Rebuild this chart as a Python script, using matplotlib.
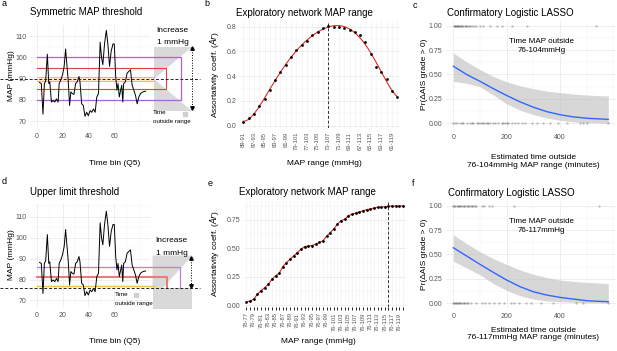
import numpy as np
import matplotlib
matplotlib.use("Agg")
import matplotlib.pyplot as plt
from matplotlib.ticker import MultipleLocator, FormatStrFormatter

plt.rcParams['font.family'] = ['Liberation Sans', 'DejaVu Sans']

# MAP trace (same patient, panels a and d)
time_bin = [2.0, 3.4, 4.7, 5.8, 6.8, 8.1, 9.2, 10.0, 11.3, 12.6, 13.9, 15.2, 16.5, 17.3, 18.6, 19.9,
            21.2, 22.3, 23.3, 24.3, 25.4, 26.4, 27.5, 28.8, 30.1, 31.4, 32.7, 33.5, 34.8, 36.1, 37.4,
            38.7, 40.0, 41.4, 42.7, 44.0, 45.3, 46.6, 47.9, 49.2, 50.3, 51.3, 52.6, 54.0, 55.2, 56.5,
            57.8, 59.2, 60.2, 61.3, 62.3, 63.1, 64.1, 64.9, 66.0, 66.8, 67.5, 68.8, 70.2, 71.5, 72.8,
            74.1, 75.4, 76.7, 78.0, 79.3, 80.6, 82.5, 84.6]
map_mmhg = [88.2, 87.7, 73.3, 87.7, 89.0, 101.5, 87.7, 88.5, 79.0, 79.8, 79.0, 80.5, 79.0, 87.7, 89.4, 91.8,
            95.8, 103.9, 96.6, 89.4, 77.4, 83.8, 83.0, 82.6, 87.7, 88.5, 91.0, 88.5, 78.2, 77.4, 72.3,
            74.2, 72.6, 75.0, 74.2, 75.8, 74.2, 81.4, 83.0, 107.1, 99.8, 96.6, 106.3, 112.7, 106.3, 95.8,
            103.0, 106.3, 106.3, 91.0, 84.6, 87.7, 81.4, 83.8, 86.9, 79.0, 87.7, 88.5, 92.6, 93.4, 94.2,
            86.9, 84.6, 82.2, 78.2, 81.4, 83.0, 83.8, 84.1]

# panel b: symmetric ranges
range_sym = ['89-91', '88-92', '87-93', '86-94', '85-95', '84-96', '83-97', '82-98', '81-99', '80-100',
             '79-101', '78-102', '77-103', '76-104', '75-105', '74-106', '73-107', '72-108', '71-109',
             '70-110', '69-111', '68-112', '67-113', '66-114', '65-115', '64-116', '63-117', '62-118',
             '61-119', '60-120']
ar_sym = [0.030, 0.060, 0.097, 0.156, 0.219, 0.285, 0.372, 0.434, 0.493, 0.552, 0.611, 0.655, 0.684,
          0.730, 0.757, 0.787, 0.808, 0.800, 0.795, 0.789, 0.776, 0.754, 0.733, 0.676, 0.579, 0.477,
          0.436, 0.374, 0.280, 0.234]
best_sym = '73-107'

# panel e: upper limit ranges
range_up = ['76-77', '76-78', '76-79', '76-80', '76-81', '76-82', '76-83', '76-84', '76-85', '76-86',
            '76-87', '76-88', '76-89', '76-90', '76-91', '76-92', '76-93', '76-94', '76-95', '76-96',
            '76-97', '76-98', '76-99', '76-100', '76-101', '76-102', '76-103', '76-104', '76-105',
            '76-106', '76-107', '76-108', '76-109', '76-110', '76-111', '76-112', '76-113', '76-114',
            '76-115', '76-116', '76-117', '76-118', '76-119', '76-120']
ar_up = [0.029, 0.035, 0.050, 0.094, 0.126, 0.152, 0.182, 0.226, 0.256, 0.279, 0.338, 0.373, 0.405,
         0.432, 0.461, 0.491, 0.514, 0.520, 0.523, 0.535, 0.550, 0.564, 0.605, 0.637, 0.670, 0.711,
         0.743, 0.755, 0.787, 0.798, 0.810, 0.818, 0.830, 0.839, 0.845, 0.853, 0.859, 0.862, 0.865,
         0.868, 0.870, 0.870, 0.870, 0.873]
best_up = '76-116'

# panel c / f: outcome points and fitted logistic curve
c_yes = [2, 5, 8, 12, 15, 18, 22, 25, 30, 34, 38, 42, 47, 52, 58, 63, 70, 78, 85, 100, 112, 137, 162,
         181, 219, 275, 534]
c_no = [0, 6, 12, 25, 31, 38, 50, 63, 69, 75, 88, 94, 100, 106, 113, 119, 125, 131, 138, 150, 156, 169,
        181, 188, 194, 200, 206, 219, 231, 244, 256, 269, 294, 313, 338, 363, 394, 425, 475, 488, 500, 581]
f_yes = [0, 4, 8, 12, 16, 20, 25, 30, 35, 40, 45, 50, 55, 60, 65, 70, 75, 80, 85, 106, 116, 132, 144,
         229, 547]
f_no = [0, 3, 6, 10, 14, 18, 22, 26, 30, 35, 40, 45, 50, 54, 66, 85, 106, 120, 135, 154, 172, 191, 216,
        229, 247, 272, 291, 329, 372, 460, 487, 581]
fit_x = [0, 50, 100, 150, 200, 250, 300, 350, 400, 450, 500, 550, 581]
fit_c = [0.585, 0.500, 0.430, 0.355, 0.285, 0.220, 0.165, 0.120, 0.088, 0.066, 0.052, 0.045, 0.040]
hi_c = [0.72, 0.63, 0.55, 0.48, 0.425, 0.385, 0.355, 0.33, 0.315, 0.30, 0.29, 0.283, 0.28]
lo_c = [0.43, 0.41, 0.375, 0.29, 0.20, 0.135, 0.09, 0.055, 0.03, 0.015, 0.007, 0.003, 0.0]
fit_f = [0.568, 0.483, 0.397, 0.315, 0.236, 0.168, 0.116, 0.082, 0.058, 0.041, 0.024, 0.017, 0.014]
hi_f = [0.70, 0.61, 0.527, 0.455, 0.397, 0.34, 0.295, 0.262, 0.236, 0.222, 0.212, 0.205, 0.20]
lo_f = [0.43, 0.36, 0.29, 0.20, 0.13, 0.075, 0.04, 0.022, 0.014, 0.008, 0.004, 0.001, 0.0]

W, H = 617, 351
fig = plt.figure(figsize=(W / 100, H / 100), dpi=100)


def box(l, t, r, b):
    return [l / W, 1 - b / H, (r - l) / W, (b - t) / H]


def style(ax, xmaj=None, xmin=None, ymaj=None, ymin=None):
    for s in ax.spines.values():
        s.set_visible(False)
    if xmaj: ax.xaxis.set_major_locator(MultipleLocator(xmaj))
    if xmin: ax.xaxis.set_minor_locator(MultipleLocator(xmin))
    if ymaj: ax.yaxis.set_major_locator(MultipleLocator(ymaj))
    if ymin: ax.yaxis.set_minor_locator(MultipleLocator(ymin))
    ax.grid(True, which='major', color='#EBEBEB', lw=0.6)
    ax.grid(True, which='minor', color='#F4F4F4', lw=0.35)
    ax.set_axisbelow(True)
    ax.tick_params(which='both', length=0, labelsize=5, labelcolor='#555555', pad=2.4)
    ax.tick_params(axis='x', pad=4)


def ftext(x, y, s, **kw):
    kw.setdefault('va', 'center')
    fig.text(x / W, 1 - y / H, s, **kw)


purple, red, yellow, grey = '#A864D8', '#E0403F', '#F2C14E', '#D9D9D9'

# ---- a: symmetric threshold
axa = fig.add_axes(box(30, 25, 150, 127))
style(axa, 20, 10, 10, 5)
axa.set_xlim(-5.4, 88)
axa.set_ylim(67.3, 115.2)
axa.fill([91, 91, 121], [90, 105, 105], color=grey, lw=0, clip_on=False)
axa.fill([91, 91, 121], [90, 75, 75], color=grey, lw=0, clip_on=False)
axa.fill_between([0, 91], 89, 91, color='#FCEFC7', lw=0, clip_on=False)
axa.plot([0, 91], [91, 91], color=yellow, lw=0.8, clip_on=False)
axa.plot([0, 91], [89, 89], color=yellow, lw=0.8, clip_on=False)
axa.plot([0, 100.5, 100.5, 0], [95, 95, 85, 85], color=red, lw=0.8, clip_on=False)
axa.plot([0, 112, 112, 0], [100, 100, 80, 80], color=purple, lw=0.9, clip_on=False)
axa.plot(time_bin, map_mmhg, color='black', lw=0.7)
axa.plot([-29, 127], [90, 90], color='#222222', lw=0.7, ls=(0, (3, 2)), clip_on=False)
axa.plot([121, 121], [76.5, 103.8], color='black', lw=0.7, ls=':', clip_on=False)
axa.plot([121], [104.3], marker='^', ms=2.5, color='black', clip_on=False)
axa.plot([121], [76.1], marker='v', ms=2.5, color='black', clip_on=False)
axa.text(105.6, 112.4, 'Increase', ha='center', va='center', size=6)
axa.text(105.6, 106.9, '1 mmHg', ha='center', va='center', size=6)
axa.text(90.5, 74, 'Time', ha='left', va='center', size=4.5)
axa.text(90.3, 69.8, 'outside range', ha='left', va='center', size=4.5)
axa.plot([115], [73.4], marker='s', ms=2.8, color='#D0D0D0', clip_on=False)
axa.set_xticks([0, 20, 40, 60])
axa.set_ylabel('MAP (mmHg)', size=6)
axa.yaxis.set_label_coords(-0.129, 0.5)
axa.set_xlabel('Time bin (Q5)', size=6)
axa.xaxis.set_label_coords(0.708, -0.319)

# ---- d: upper limit threshold
axd = fig.add_axes(box(30, 203, 150, 306.7))
style(axd, 20, 10, 10, 5)
axd.set_xlim(-5.4, 88)
axd.set_ylim(67, 116.6)
axd.fill([90, 90, 121, 98], [76, 91.5, 91.5, 76], color=grey, lw=0, clip_on=False)
axd.fill([90, 90, 121, 121], [66, 76, 76, 66], color=grey, lw=0, clip_on=False)
axd.plot([0, 91], [77, 77], color=yellow, lw=1.0, clip_on=False)
axd.plot([0, 101, 101], [81, 81, 76], color='#EE7A7A', lw=1.5, clip_on=False)
axd.plot([0, 111, 111], [86, 86, 76], color='#B97DE0', lw=0.9, clip_on=False)
axd.plot(time_bin, map_mmhg, color='black', lw=0.7)
axd.plot([-29, 127], [76, 76], color='#222222', lw=0.7, ls=(0, (3, 2)), clip_on=False)
axd.plot([120, 120], [77.1, 90.0], color='black', lw=0.7, ls=':', clip_on=False)
axd.plot([120], [90.5], marker='^', ms=2.5, color='black', clip_on=False)
axd.plot([120], [76.7], marker='v', ms=2.5, color='black', clip_on=False)
axd.text(104.8, 98.5, 'Increase', ha='center', va='center', size=6)
axd.text(104.8, 92.6, '1 mmHg', ha='center', va='center', size=6)
axd.text(60.5, 73, 'Time', ha='left', va='center', size=4.5)
axd.text(60.5, 68.7, 'outside range', ha='left', va='center', size=4.5)
axd.plot([77.3], [72.7], marker='s', ms=2.8, color='#D0D0D0')
axd.set_xticks([0, 20, 40, 60])
axd.set_ylabel('MAP (mmHg)', size=6)
axd.yaxis.set_label_coords(-0.129, 0.5)
axd.set_xlabel('Time bin (Q5)', size=6)
axd.xaxis.set_label_coords(0.708, -0.305)


# ---- b / e: assortativity by range
def range_panel(ax, labels, vals, best, smooth, ylim, ymaj, ymin, fmt, ticks_on):
    style(ax, None, None, ymaj, ymin)
    idx = np.arange(len(labels))
    ax.set_xticks(idx)
    ax.set_xticklabels([l if i % 2 == 0 else '' for i, l in enumerate(labels)],
                       rotation=90, size=4.2)
    ax.grid(True, axis='x', which='major', color='#F0F0F0', lw=0.4)
    ax.set_xlim(-0.7, len(labels) - 0.3)
    ax.set_ylim(*ylim)
    ax.yaxis.set_major_formatter(FormatStrFormatter(fmt))
    if smooth:
        coef = np.polyfit(idx, vals, 6)
        xs = np.linspace(0, len(labels) - 1, 200)
        ax.plot(xs, np.polyval(coef, xs), color='#E02828', lw=0.8)
    else:
        ax.plot(idx, vals, color='#E02828', lw=0.8)
    ax.scatter(idx, vals, s=4, color='black', zorder=3, lw=0)
    ax.axvline(labels.index(best), color='#333333', lw=0.7, ls=(0, (3, 2)))
    if ticks_on:
        ax.tick_params(axis='x', length=1.8, width=0.6, color='black', pad=2.5)
    else:
        ax.tick_params(axis='x', pad=3)
    ax.set_ylabel('Assortativity coeff. ($Ar$)', size=6)
    ax.set_xlabel('MAP range (mmHg)', size=6)


axb = fig.add_axes(box(239.6, 21.1, 401, 127.5))
range_panel(axb, range_sym, ar_sym, best_sym, True, (-0.015, 0.845), 0.2, 0.1, '%.1f', False)
axb.yaxis.set_label_coords(-0.115, 0.5)
axb.xaxis.set_label_coords(0.523, -0.301)

axe = fig.add_axes(box(243.8, 201, 405.6, 306.5))
range_panel(axe, range_up, ar_up, best_up, False, (-0.013, 0.915), 0.25, 0.125, '%.2f', True)
axe.yaxis.set_label_coords(-0.141, 0.5)
axe.xaxis.set_label_coords(0.46, -0.301)


# ---- c / f: logistic LASSO
def lasso_panel(ax, yes, no, fit, hi, lo, rng):
    style(ax, None, 100, 0.25, 0.125)
    ax.set_xticks([0, 200, 400])
    ax.set_xlim(-29, 610)
    ax.set_ylim(-0.05, 1.05)
    ax.yaxis.set_major_formatter(FormatStrFormatter('%.2f'))
    ax.fill_between(fit_x, lo, hi, color='#BDBDBD', alpha=0.6, lw=0)
    ax.plot(fit_x, fit, color='#3366FF', lw=1.0)
    ax.scatter(yes, [1] * len(yes), s=3, color='black', alpha=0.22, lw=0, clip_on=False)
    ax.scatter(no, [0] * len(no), s=3, color='black', alpha=0.22, lw=0, clip_on=False)
    ax.text(330, 0.79, 'Time MAP outside\n' + rng + 'mmHg', ha='center', va='center',
            size=5.8, linespacing=1.5)
    ax.set_ylabel('Pr(\u0394AIS grade > 0)', size=6)
    ax.yaxis.set_label_coords(-0.103, 0.5)
    ax.set_xlabel('Estimated time outside\n' + rng + 'mmHg MAP range (minutes)', size=6,
                  linespacing=1.15)


axc = fig.add_axes(box(445.6, 20.8, 616, 128.2))
lasso_panel(axc, c_yes, c_no, fit_c, hi_c, lo_c, '76-104')
axc.xaxis.set_label_coords(0.513, -0.24)

axf = fig.add_axes(box(445.6, 200.8, 616, 307.9))
lasso_panel(axf, f_yes, f_no, fit_f, hi_f, lo_f, '76-117')
axf.xaxis.set_label_coords(0.515, -0.176)

# titles and panel letters
ftext(30, 12, 'Symmetric MAP threshold', size=7)
ftext(236, 12.7, 'Exploratory network MAP range', size=7)
ftext(446.7, 13, 'Confirmatory Logistic LASSO', size=7)
ftext(30, 191.7, 'Upper limit threshold', size=7)
ftext(239, 192, 'Exploratory network MAP range', size=7)
ftext(448, 193, 'Confirmatory Logistic LASSO', size=7)
for x, y, s in [(1.5, 4, 'a'), (204, 4, 'b'), (413, 5, 'c'), (1.5, 182, 'd'), (208, 183, 'e'), (412, 183, 'f')]:
    ftext(x, y, s, size=6.5)

fig.savefig('out.png', dpi=100)
